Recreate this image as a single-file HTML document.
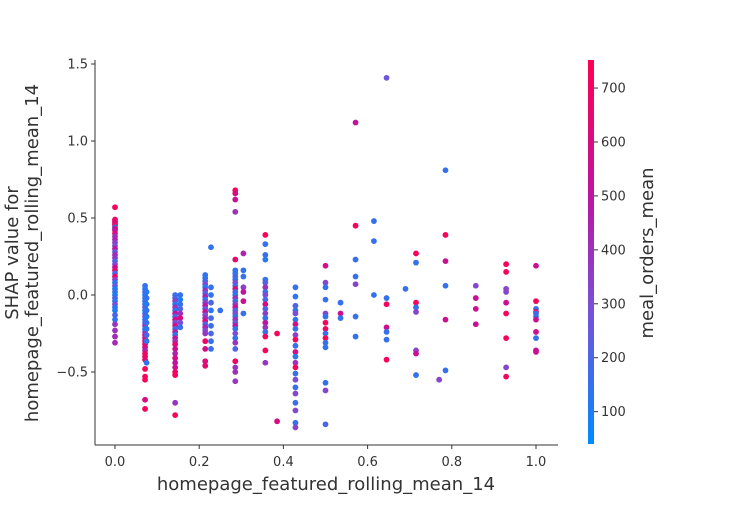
<!DOCTYPE html>
<html><head><meta charset="utf-8"><style>
body{margin:0;background:#fff;}
svg text{font-family:"DejaVu Sans","Liberation Sans",sans-serif;fill:#333;}
</style></head><body>
<svg id="chart" width="750" height="500" viewBox="0 0 750 500" xmlns="http://www.w3.org/2000/svg">
<defs><linearGradient id="cbg" x1="0" y1="1" x2="0" y2="0">
<stop offset="0" stop-color="rgb(0,139,255)"/><stop offset="0.35" stop-color="rgb(120,80,215)"/><stop offset="0.65" stop-color="rgb(190,20,160)"/><stop offset="1" stop-color="rgb(255,0,82)"/></linearGradient></defs>
<g id="points"></g>
<g id="axes"></g>
<rect x="588" y="60" width="6" height="384" fill="url(#cbg)"/>
<g id="cbticks"></g>
<text x="326" y="490" text-anchor="middle" font-size="18">homepage_featured_rolling_mean_14</text>
<text transform="translate(18,253) rotate(-90)" text-anchor="middle" font-size="18">SHAP value for</text>
<text transform="translate(38,253) rotate(-90)" text-anchor="middle" font-size="18">homepage_featured_rolling_mean_14</text>
<text transform="translate(653,253) rotate(-90)" text-anchor="middle" font-size="18">meal_orders_mean</text>
</svg>
<script>
const colX = [0,0.0714,0.075,0.1429,0.155,0.2143,0.228,0.25,0.2857,0.305,0.3571,0.385,0.4286,0.5,0.5357,0.5714,0.615,0.645,0.69,0.715,0.77,0.785,0.857,0.929,1.0];
const colY = [
[0.57,0.49,0.48,0.47,0.46,0.45,0.44,0.43,0.42,0.40,0.38,0.36,0.34,0.32,0.30,0.28,0.26,0.24,0.22,0.2,0.18,0.16,0.14,0.12,0.1,0.08,0.06,0.04,0.02,0.0,-0.02,-0.04,-0.06,-0.08,-0.1,-0.13,-0.16,-0.19,-0.23,-0.27,-0.31],
[0.06,0.04,0.02,0.0,-0.02,-0.04,-0.06,-0.08,-0.1,-0.12,-0.14,-0.16,-0.18,-0.2,-0.22,-0.24,-0.26,-0.28,-0.3,-0.32,-0.34,-0.36,-0.38,-0.4,-0.42,-0.48,-0.53,-0.55,-0.68,-0.74],
[0.02,-0.02,-0.06,-0.1,-0.14,-0.18,-0.22,-0.26,-0.3,-0.44],
[0.0,-0.02,-0.04,-0.06,-0.08,-0.1,-0.12,-0.14,-0.16,-0.18,-0.2,-0.22,-0.24,-0.26,-0.28,-0.3,-0.32,-0.35,-0.38,-0.41,-0.44,-0.47,-0.5,-0.52,-0.7,-0.78],
[0.0,-0.03,-0.06,-0.09,-0.12,-0.15,-0.18,-0.21],
[0.13,0.11,0.09,0.07,0.05,0.03,0.01,-0.01,-0.03,-0.05,-0.07,-0.09,-0.11,-0.13,-0.15,-0.17,-0.19,-0.21,-0.23,-0.25,-0.3,-0.35,-0.43,-0.46],
[0.31,0.05,0.0,-0.05,-0.1,-0.15,-0.2,-0.25,-0.3,-0.35],
[-0.1],
[0.68,0.66,0.62,0.54,0.23,0.16,0.14,0.12,0.1,0.08,0.06,0.04,0.02,0.0,-0.02,-0.04,-0.06,-0.08,-0.1,-0.12,-0.14,-0.16,-0.18,-0.2,-0.22,-0.25,-0.28,-0.31,-0.35,-0.43,-0.47,-0.5,-0.56],
[0.27,0.16,0.12,0.05,0.02,-0.04,-0.12],
[0.39,0.33,0.26,0.23,0.1,0.08,0.05,0.02,0.0,-0.03,-0.06,-0.09,-0.12,-0.15,-0.18,-0.21,-0.24,-0.27,-0.36,-0.44],
[-0.25,-0.82],
[0.05,-0.01,-0.07,-0.1,-0.12,-0.16,-0.19,-0.22,-0.26,-0.29,-0.33,-0.37,-0.4,-0.44,-0.47,-0.51,-0.55,-0.6,-0.64,-0.7,-0.75,-0.83,-0.86],
[0.19,0.08,0.05,-0.03,-0.12,-0.14,-0.18,-0.22,-0.25,-0.28,-0.31,-0.34,-0.57,-0.62,-0.84],
[-0.05,-0.12,-0.15],
[1.12,0.45,0.23,0.12,0.07,-0.14,-0.27],
[0.48,0.35,0.0],
[1.41,-0.02,-0.06,-0.21,-0.24,-0.29,-0.42],
[0.04],
[0.27,0.21,-0.05,-0.08,-0.11,-0.36,-0.38,-0.52],
[-0.55],
[0.81,0.39,0.22,0.06,-0.16,-0.49],
[0.06,-0.02,-0.09,-0.19],
[0.2,0.15,0.04,0.02,-0.05,-0.12,-0.28,-0.47,-0.53],
[0.19,-0.04,-0.09,-0.11,-0.12,-0.14,-0.16,-0.24,-0.28,-0.36,-0.37]
];
const colC = [
[720,700,680,650,600,720,150,550,500,620,400,450,350,300,500,250,420,380,200,300,550,650,180,700,350,120,250,100,150,90,200,120,300,150,100,200,130,380,400,420,430],
[150,120,200,100,150,130,180,250,110,160,300,140,220,400,120,350,550,500,650,700,600,450,680,700,650,720,700,720,600,720],
[130,150,110,140,120,160,130,200,150,150],
[150,200,350,120,400,150,500,200,550,300,600,180,450,130,500,400,650,550,450,600,500,550,700,720,380,720],
[150,100,150,200,400,600,300,150],
[150,130,180,300,120,400,200,450,150,350,500,250,550,300,400,600,200,450,300,380,700,600,620,650],
[150,150,120,200,130,180,150,200,150,150],
[150],
[720,600,550,400,650,150,120,200,150,300,180,600,200,130,400,150,350,550,200,300,160,400,250,500,140,300,150,380,200,700,380,400,380],
[450,150,150,350,500,550,150],
[720,150,150,120,150,200,400,150,300,180,600,200,350,150,500,400,150,700,720,380],
[720,600],
[150,130,200,150,300,130,600,150,350,720,150,600,130,400,720,150,300,150,330,160,320,150,330],
[580,330,150,150,330,150,720,700,150,720,150,150,150,330,200],
[150,550,150],
[520,720,150,150,330,150,150],
[150,150,150],
[260,150,720,550,150,150,720],
[150],
[720,150,720,150,330,330,550,150],
[330],
[150,720,550,150,550,150],
[330,550,550,550],
[720,720,330,330,550,720,720,330,720],
[550,720,150,720,150,150,550,550,150,550,550]
];
const xTicks = [0,0.2,0.4,0.6,0.8,1.0];
const xTickLabels = ["0.0","0.2","0.4","0.6","0.8","1.0"];
const yTicks = [-0.5,0,0.5,1.0,1.5];
const yTickLabels = ["\u22120.5","0.0","0.5","1.0","1.5"];
const cTicks = [100,200,300,400,500,600,700];

const NS="http://www.w3.org/2000/svg";
const sx = v => 115 + 421*v;
const sy = v => 295 - 154*v;
const sc = v => 444 - (v-40)/(752-40)*384;
function color(v){
  let t=Math.max(0,Math.min(1,(v-40)/(752-40)));
  const st=[[0,0,139,255],[0.35,120,80,215],[0.65,190,20,160],[1,255,0,82]];
  for(let i=0;i<st.length-1;i++){
    if(t<=st[i+1][0]){const a=st[i],b=st[i+1],f=(t-a[0])/(b[0]-a[0]);
      return `rgb(${Math.round(a[1]+f*(b[1]-a[1]))},${Math.round(a[2]+f*(b[2]-a[2]))},${Math.round(a[3]+f*(b[3]-a[3]))})`;}
  }
  return "rgb(255,0,82)";
}
function mk(tag,attrs,parent){const e=document.createElementNS(NS,tag);for(const k in attrs)e.setAttribute(k,attrs[k]);parent.appendChild(e);return e;}
const pg=document.getElementById('points');
colX.forEach((x,i)=>{colY[i].forEach((y,j)=>{
  const c=mk('circle',{cx:sx(x),cy:sy(y),r:2.9,fill:color(colC[i][j])},pg);
  
  
});});
const ax=document.getElementById('axes');
const l1=mk('line',{x1:95,y1:60,x2:95,y2:445,stroke:'#333','stroke-width':1},ax);


const l2=mk('line',{x1:95,y1:445,x2:558,y2:445,stroke:'#333','stroke-width':1},ax);


xTicks.forEach((v,i)=>{
  mk('line',{x1:sx(v),y1:445,x2:sx(v),y2:449,stroke:'#333'},ax);
  const t=mk('text',{x:sx(v),y:466,'text-anchor':'middle','font-size':13},ax);
  t.textContent=xTickLabels[i];
  
  
});
yTicks.forEach((v,i)=>{
  mk('line',{x1:91,y1:sy(v),x2:95,y2:sy(v),stroke:'#333'},ax);
  const t=mk('text',{x:88,y:sy(v)+4.5,'text-anchor':'end','font-size':13},ax);
  t.textContent=yTickLabels[i];
  
  
});
const cb=document.getElementById('cbticks');
cTicks.forEach(v=>{
  mk('line',{x1:594,y1:sc(v),x2:598,y2:sc(v),stroke:'#333'},cb);
  const t=mk('text',{x:601,y:sc(v)+4.5,'font-size':13},cb);
  t.textContent=String(v);
  
  
});
</script>
</body></html>
